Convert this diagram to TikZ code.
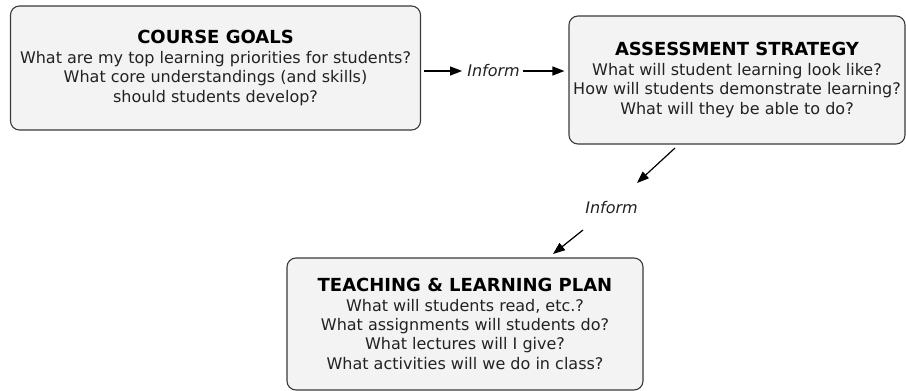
\documentclass[tikz,border=0pt]{standalone}
\usepackage{fontspec}
\setmainfont{DejaVu Sans}
\usetikzlibrary{arrows.meta}
\definecolor{boxfill}{HTML}{F3F3F3}
\definecolor{boxline}{HTML}{3A3A3A}
\definecolor{bodytext}{HTML}{222222}
\newcommand{\boxhead}[1]{{\color{black}\bfseries\fontsize{18}{19.4}\selectfont #1}}
\begin{document}
\begin{tikzpicture}[x=1pt,y=-1pt,
  planbox/.style={draw=boxline, fill=boxfill, line width=1.1pt, rounded corners=9pt,
    align=center, inner sep=0pt, text=bodytext,
    font=\fontsize{16}{19.4}\selectfont},
  linklabel/.style={font=\fontsize{16}{18}\selectfont\itshape, inner sep=0pt, text=bodytext},
  flow/.style={line width=1.2pt, -{Triangle[length=12pt,width=9pt]}}
]
\useasboundingbox (0,0) rectangle (906,391);

% the three planning boxes
\node[planbox, minimum width=410pt, minimum height=124pt] (goals) at (215.5,68)
  {\boxhead{COURSE GOALS}\\
   What are my top learning priorities for students?\\
   What core understandings (and skills)\\
   should students develop?};
\node[planbox, minimum width=336pt, minimum height=128pt] (assess) at (737,80)
  {\boxhead{ASSESSMENT STRATEGY}\\
   What will student learning look like?\\
   How will students demonstrate learning?\\
   What will they be able to do?};
\node[planbox, minimum width=356pt, minimum height=132pt] (plan) at (465,324)
  {\boxhead{TEACHING \& LEARNING PLAN}\\
   What will students read, etc.?\\
   What assignments will students do?\\
   What lectures will I give?\\
   What activities will we do in class?};

% link labels
\node[linklabel] (inform1) at (493.5,71) {Inform};
\node[linklabel] (inform2) at (611.5,208) {Inform};

% connectors
\draw[flow, shorten <=2.5pt, shorten >=5pt] (goals.east |- inform1) -- (inform1.west);
\draw[flow, shorten <=3pt, shorten >=4pt] (inform1.east) -- (assess.west |- inform1);

\coordinate (d1s) at (675,148);
\coordinate (d1e) at (637,183);
\coordinate (d2s) at (583,230);
\coordinate (d2e) at (553,254);
\draw[flow] (d1s) -- (d1e);
\draw[flow] (d2s) -- (d2e);
\end{tikzpicture}
\end{document}
